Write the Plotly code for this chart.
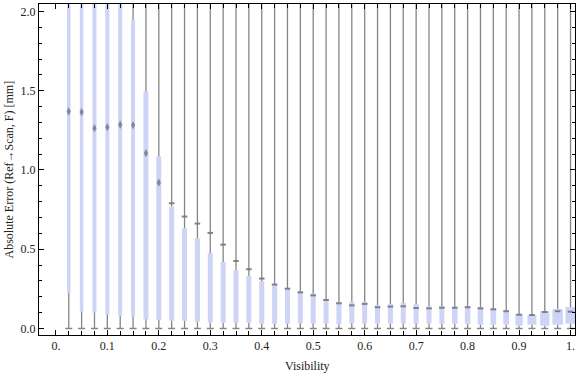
import plotly.graph_objects as go

# ---------------- data ----------------
visibility = [0.025, 0.05, 0.075, 0.1, 0.125, 0.15, 0.175, 0.2, 0.225, 0.25,
              0.275, 0.3, 0.325, 0.35, 0.375, 0.4, 0.425, 0.45, 0.475, 0.5,
              0.525, 0.55, 0.575, 0.6, 0.625, 0.65, 0.675, 0.7, 0.725, 0.75,
              0.775, 0.8, 0.825, 0.85, 0.875, 0.9, 0.925, 0.95, 0.975, 1.0]

box_low = [0.226, 0.106, 0.100, 0.087, 0.081, 0.075, 0.058, 0.054, 0.049, 0.049,
           0.043, 0.037, 0.037, 0.037, 0.037, 0.030, 0.030, 0.030, 0.033, 0.031,
           0.031, 0.026, 0.033, 0.031, 0.031, 0.031, 0.031, 0.031, 0.030, 0.030,
           0.030, 0.028, 0.024, 0.024, 0.024, 0.018, 0.024, 0.018, 0.024, 0.030]

box_high = [2.40, 2.35, 2.30, 2.20, 2.15, 1.948, 1.495, 1.085, 0.769, 0.632,
            0.569, 0.477, 0.420, 0.369, 0.331, 0.300, 0.275, 0.256, 0.232, 0.220,
            0.186, 0.167, 0.169, 0.167, 0.148, 0.155, 0.161, 0.155, 0.142, 0.142,
            0.136, 0.142, 0.136, 0.129, 0.117, 0.092, 0.085, 0.110, 0.123, 0.136]

median = [1.369, 1.365, 1.264, 1.270, 1.285, 1.283, 1.106, 0.920, 0.790, 0.706,
          0.662, 0.603, 0.529, 0.426, 0.374, 0.315, 0.277, 0.251, 0.228, 0.209,
          0.180, 0.159, 0.146, 0.155, 0.134, 0.138, 0.140, 0.129, 0.127, 0.131,
          0.131, 0.134, 0.127, 0.121, 0.109, 0.087, 0.085, 0.104, 0.109, 0.106]

whisker_low = [0.0] * 40
whisker_high = [3.0] * 40

x_tick_vals = [0.0, 0.1, 0.2, 0.3, 0.4, 0.5, 0.6, 0.7, 0.8, 0.9, 1.0]
x_tick_text = ["0.", "0.1", "0.2", "0.3", "0.4", "0.5", "0.6", "0.7", "0.8", "0.9", "1."]
y_tick_vals = [0.0, 0.5, 1.0, 1.5, 2.0]
y_tick_text = ["0.0", "0.5", "1.0", "1.5", "2.0"]

# ---------------- style ----------------
box_px = [3.5, 3.5, 4, 4, 4, 4, 5, 5, 5, 5,
          5, 5, 5, 5, 5, 5, 5, 5, 5, 5,
          5, 5, 5, 5, 5, 5, 5, 5, 5, 5,
          5.5, 5.5, 5.5, 5.7, 5.7, 7.3, 9, 9.3, 10.5, 10]
PX_PER_UNIT = 514.8
box_w = [p / PX_PER_UNIT for p in box_px]

FONT = "Liberation Serif, Times New Roman, serif"
GREY = "#858585"
BOXC = "#cdd4f6"

fig = go.Figure()

# boxes
fig.add_trace(go.Bar(x=visibility,
                     y=[h - l for h, l in zip(box_high, box_low)],
                     base=box_low, width=box_w,
                     marker=dict(color=BOXC, line=dict(width=0)),
                     showlegend=False, hoverinfo="skip"))

# whiskers (below and above each box)
wx, wy = [], []
for xv, lo, bl, bh, hi in zip(visibility, whisker_low, box_low, box_high, whisker_high):
    wx += [xv, xv, None, xv, xv, None]
    wy += [lo, bl, None, bh, hi, None]
fig.add_trace(go.Scatter(x=wx, y=wy, mode="lines",
                         line=dict(color=GREY, width=1.3),
                         hoverinfo="skip", showlegend=False))
# lower whisker caps
fig.add_trace(go.Scatter(x=visibility, y=whisker_low, mode="markers",
                         marker=dict(symbol="line-ew", size=5,
                                     line=dict(color=GREY, width=1.5)),
                         cliponaxis=False, showlegend=False, hoverinfo="skip"))

# median markers
inside = [m > 0.85 for m in median]
fig.add_trace(go.Scatter(x=[x for x, i in zip(visibility, inside) if i],
                         y=[m for m, i in zip(median, inside) if i],
                         mode="markers",
                         marker=dict(symbol="diamond-tall", size=6,
                                     color="rgba(100,100,112,0.7)",
                                     line=dict(width=0)),
                         showlegend=False, hoverinfo="skip"))
fig.add_trace(go.Scatter(x=[x for x, i in zip(visibility, inside) if not i],
                         y=[m for m, i in zip(median, inside) if not i],
                         mode="markers",
                         marker=dict(symbol="line-ew", size=4,
                                     line=dict(color="rgba(120,120,120,0.9)", width=2)),
                         showlegend=False, hoverinfo="skip"))

x_minor = [round(0.025 * i, 3) for i in range(0, 41)]
y_minor = [round(0.1 * i, 2) for i in range(0, 21)]

fig.update_layout(
    width=576, height=375,
    margin=dict(l=39, r=1, t=4, b=40),
    paper_bgcolor="white", plot_bgcolor="white",
    barmode="overlay",
    font=dict(family=FONT, size=12, color="#222"),
    xaxis=dict(range=[-0.0328, 1.0087], showgrid=False, zeroline=False,
               showline=True, linecolor="black", linewidth=1, mirror="allticks",
               ticks="inside", ticklen=5, tickcolor="black", tickwidth=1,
               tickmode="array", tickvals=x_tick_vals, ticktext=x_tick_text,
               tickfont=dict(family=FONT, size=12, color="#222"),
               minor=dict(tickmode="array", tickvals=x_minor, ticks="inside",
                          ticklen=4, tickcolor="black", tickwidth=1, showgrid=False)),
    yaxis=dict(range=[-0.041, 2.047], showgrid=False, zeroline=False,
               showline=True, linecolor="black", linewidth=1, mirror="allticks",
               ticks="inside", ticklen=5, tickcolor="black", tickwidth=1,
               tickmode="array", tickvals=y_tick_vals, ticktext=y_tick_text,
               tickfont=dict(family=FONT, size=12, color="#222"),
               minor=dict(tickmode="array", tickvals=y_minor, ticks="inside",
                          ticklen=3, tickcolor="black", tickwidth=1, showgrid=False)),
    annotations=[
        dict(text="Visibility", xref="paper", yref="paper", x=0.5, y=0,
             yshift=-31, xanchor="center", yanchor="middle", showarrow=False,
             font=dict(family=FONT, size=12, color="#222")),
        dict(text="Absolute Error (Ref\u2192Scan, F) [mm]", xref="paper", yref="paper",
             x=0, xshift=-31, y=0.5, textangle=-90, xanchor="center", yanchor="middle",
             showarrow=False, font=dict(family=FONT, size=12, color="#222")),
    ],
)

fig.write_html("out.html", config={"displayModeBar": False},
               post_script="document.body.style.margin='0';")
